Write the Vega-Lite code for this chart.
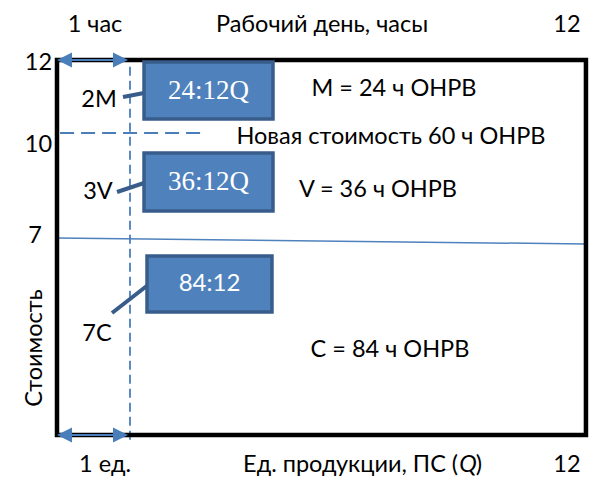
{
  "$schema": "https://vega.github.io/schema/vega-lite/v6.json",
  "width": 593,
  "height": 481,
  "padding": 0,
  "autosize": {"type": "none"},
  "config": {"view": {"stroke": null}},
  "datasets": {
    "frame": [{"x": 0, "x2": 12, "y": 0, "y2": 12}],
    "vdash": [{"x": 1.656, "x2": 1.656, "y": -0.15, "y2": 12}],
    "hdash": [{"x": 0.07, "x2": 3.4, "y": 9.664, "y2": 9.664}],
    "thin": [{"x": 0, "x2": 12, "y": 6.304, "y2": 6.112}],
    "shafts": [{"x": 0.05, "x2": 1.56, "y": 12, "y2": 12}, {"x": 0.05, "x2": 1.56, "y": 0, "y2": 0}],
    "headsL": [{"x": 0.17, "y": 12}, {"x": 0.17, "y": 0}],
    "headsR": [{"x": 1.441, "y": 12}, {"x": 1.441, "y": 0}],
    "boxes": [
      {"x": 1.974, "x2": 4.9, "y": 11.936, "y2": 10.112},
      {"x": 1.974, "x2": 4.9, "y": 9.024, "y2": 7.168},
      {"x": 2.042, "x2": 4.877, "y": 5.728, "y2": 3.936}
    ],
    "leaders": [
      {"x": 1.497, "x2": 1.974, "y": 10.816, "y2": 10.944},
      {"x": 1.361, "x2": 1.974, "y": 7.776, "y2": 8.064},
      {"x": 1.248, "x2": 2.064, "y": 3.904, "y2": 4.8}
    ],
    "boxSerif": [
      {"x": 3.437, "y": 11.024, "label": "24:12Q"},
      {"x": 3.437, "y": 8.096, "label": "36:12Q"}
    ],
    "boxSans": [{"x": 3.46, "y": 4.832, "label": "84:12"}],
    "labels": [
      {"x": 0.862, "y": 13.12, "label": "1 час"},
      {"x": 6.012, "y": 13.12, "label": "Рабочий день, часы"},
      {"x": 11.57, "y": 13.12, "label": "12"},
      {"x": -0.42, "y": 11.904, "label": "12"},
      {"x": -0.42, "y": 9.28, "label": "10"},
      {"x": -0.5, "y": 6.368, "label": "7"},
      {"x": 0.953, "y": 10.72, "label": "2M"},
      {"x": 0.93, "y": 7.776, "label": "3V"},
      {"x": 0.907, "y": 3.232, "label": "7C"},
      {"x": 7.645, "y": 11.072, "label": "M = 24 ч ОНРВ"},
      {"x": 7.577, "y": 9.536, "label": "Новая стоимость 60 ч ОНРВ"},
      {"x": 7.282, "y": 7.84, "label": "V = 36 ч ОНРВ"},
      {"x": 7.554, "y": 2.72, "label": "C = 84 ч ОНРВ"},
      {"x": 1.089, "y": -0.96, "label": "1 ед."},
      {"x": 11.57, "y": -0.96, "label": "12"}
    ],
    "xtitle": [{"x": 9.1, "y": -0.96, "label": "Ед. продукции, ПС ("}],
    "xtitleQ": [{"x": 9.123, "y": -0.96, "label": "Q"}],
    "xtitleP": [{"x": 9.5, "y": -0.96, "label": ")"}],
    "ytitle": [{"x": -0.499, "y": 2.784, "label": "Стоимость"}]
  },
  "encoding": {
    "x": {"field": "x", "type": "quantitative", "scale": {"domain": [-1.293, 12.16], "nice": false, "zero": false}, "axis": null},
    "y": {"field": "y", "type": "quantitative", "scale": {"domain": [-1.472, 13.92], "nice": false, "zero": false}, "axis": null}
  },
  "layer": [
    {"data": {"name": "thin"}, "mark": {"type": "rule", "color": "#4f81bd", "strokeWidth": 1.5}, "encoding": {"x2": {"field": "x2"}, "y2": {"field": "y2"}}},
    {"data": {"name": "vdash"}, "mark": {"type": "rule", "color": "#4a7ebb", "strokeWidth": 1.8, "strokeDash": [9, 5]}, "encoding": {"x2": {"field": "x2"}, "y2": {"field": "y2"}}},
    {"data": {"name": "hdash"}, "mark": {"type": "rule", "color": "#4a7ebb", "strokeWidth": 1.8, "strokeDash": [14, 7]}, "encoding": {"x2": {"field": "x2"}, "y2": {"field": "y2"}}},
    {"data": {"name": "frame"}, "mark": {"type": "rect", "fillOpacity": 0, "stroke": "#000000", "strokeWidth": 4.5}, "encoding": {"x2": {"field": "x2"}, "y2": {"field": "y2"}}},
    {"data": {"name": "shafts"}, "mark": {"type": "rule", "color": "#4a7ebb", "strokeWidth": 2}, "encoding": {"x2": {"field": "x2"}, "y2": {"field": "y2"}}},
    {"data": {"name": "headsL"}, "mark": {"type": "point", "shape": "M1,-1L-1,0L1,1Z", "filled": true, "color": "#4a7ebb", "opacity": 1, "size": 225}},
    {"data": {"name": "headsR"}, "mark": {"type": "point", "shape": "M-1,-1L1,0L-1,1Z", "filled": true, "color": "#4a7ebb", "opacity": 1, "size": 225}},
    {"data": {"name": "leaders"}, "mark": {"type": "rule", "color": "#385d8a", "strokeWidth": 4}, "encoding": {"x2": {"field": "x2"}, "y2": {"field": "y2"}}},
    {"data": {"name": "boxes"}, "mark": {"type": "rect", "fill": "#4f81bd", "stroke": "#385d8a", "strokeWidth": 3.5}, "encoding": {"x2": {"field": "x2"}, "y2": {"field": "y2"}}},
    {"data": {"name": "boxSerif"}, "mark": {"type": "text", "font": "Liberation Serif", "fontSize": 27, "color": "#ffffff", "align": "center", "baseline": "middle"}, "encoding": {"text": {"field": "label"}}},
    {"data": {"name": "boxSans"}, "mark": {"type": "text", "font": "Lato", "fontSize": 24, "color": "#ffffff", "align": "center", "baseline": "middle"}, "encoding": {"text": {"field": "label"}}},
    {"data": {"name": "labels"}, "mark": {"type": "text", "font": "Lato", "fontSize": 23.5, "color": "#000000", "align": "center", "baseline": "middle"}, "encoding": {"text": {"field": "label"}}},
    {"data": {"name": "xtitle"}, "mark": {"type": "text", "font": "Lato", "fontSize": 23.5, "color": "#000000", "align": "right", "baseline": "middle"}, "encoding": {"text": {"field": "label"}}},
    {"data": {"name": "xtitleQ"}, "mark": {"type": "text", "font": "Lato", "fontSize": 23.5, "fontStyle": "italic", "color": "#000000", "align": "left", "baseline": "middle"}, "encoding": {"text": {"field": "label"}}},
    {"data": {"name": "xtitleP"}, "mark": {"type": "text", "font": "Lato", "fontSize": 23.5, "color": "#000000", "align": "left", "baseline": "middle"}, "encoding": {"text": {"field": "label"}}},
    {"data": {"name": "ytitle"}, "mark": {"type": "text", "font": "Lato", "fontSize": 23.5, "angle": 270, "color": "#000000", "align": "center", "baseline": "middle"}, "encoding": {"text": {"field": "label"}}}
  ]
}
